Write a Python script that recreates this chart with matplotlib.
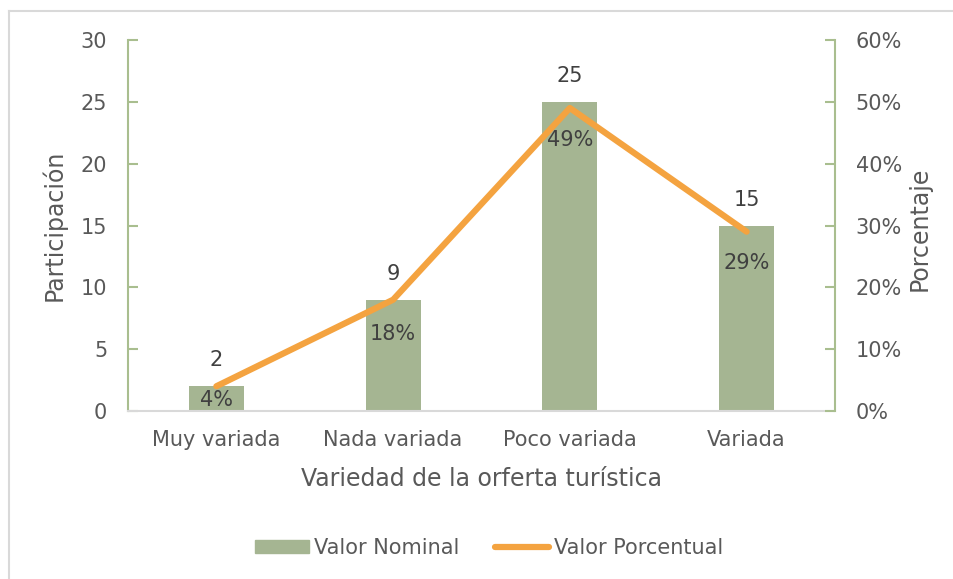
import matplotlib
matplotlib.use("Agg")
import matplotlib.pyplot as plt
from matplotlib.lines import Line2D
from matplotlib.patches import Patch
from matplotlib.ticker import FuncFormatter

categories = ["Muy variada", "Nada variada", "Poco variada", "Variada"]
nominal = [2, 9, 25, 15]
percent = [4, 18, 49, 29]
left_ticks = [0, 5, 10, 15, 20, 25, 30]
right_ticks = [0, 10, 20, 30, 40, 50, 60]

plt.rcParams['font.family'] = ['DejaVu Sans']
TXT = '#595959'
LBL = '#404040'
BAR = '#A5B592'
LINE = '#F4A340'
SPINE = '#A9BE8F'

fig = plt.figure(figsize=(9.54, 5.79), dpi=100)
bx, by = 9.5/954, 1 - 10.5/579
fig.add_artist(Line2D([bx, 1], [by, by], transform=fig.transFigure, color='#D9D9D9', linewidth=1.5))
fig.add_artist(Line2D([bx, bx], [0, by], transform=fig.transFigure, color='#D9D9D9', linewidth=1.5))

ax = fig.add_axes([128/954, 168/579, 707/954, 371/579])
x = list(range(len(categories)))
ax.bar(x, nominal, width=0.31, color=BAR, zorder=2)
ax.set_xlim(-0.5, 3.5)
ax.set_ylim(0, 30)
ax.set_yticks(left_ticks)
ax.set_xticks(x)
ax.set_xticklabels(categories)
for s in ['top', 'right']:
    ax.spines[s].set_visible(False)
ax.spines['left'].set_color(SPINE)
ax.spines['left'].set_linewidth(1.5)
ax.spines['bottom'].set_color('#D9D9D9')
ax.spines['bottom'].set_linewidth(1.5)
ax.tick_params(axis='y', direction='in', length=7, color=SPINE, width=1.5, labelsize=15, labelcolor=TXT, pad=15)
ax.tick_params(axis='x', length=0, labelsize=15, labelcolor=TXT, pad=14)
ax.set_ylabel("Participación", fontsize=17, color=TXT)
ax.yaxis.set_label_coords(-0.0863, 0.5)
ax.set_xlabel("Variedad de la orferta turística", fontsize=17, color=TXT, labelpad=12)

for xi, v in zip(x, nominal):
    ax.annotate(str(v), (xi, v), xytext=(0, 26), textcoords='offset pixels',
                ha='center', va='center', fontsize=15, color=LBL)

ax2 = ax.twinx()
ax2.set_ylim(0, 60)
ax2.set_yticks(right_ticks)
ax2.yaxis.set_major_formatter(FuncFormatter(lambda v, p: f"{int(v)}%"))
for s in ['top', 'left', 'bottom']:
    ax2.spines[s].set_visible(False)
ax2.spines['right'].set_color(SPINE)
ax2.spines['right'].set_linewidth(1.5)
ax2.tick_params(axis='y', direction='in', length=7, color=SPINE, width=1.5, labelsize=15, labelcolor=TXT, pad=15)
ax2.set_ylabel("Porcentaje", fontsize=17, color=TXT)
ax2.yaxis.set_label_coords(1.103, 0.49)
ax2.plot(x, percent, color=LINE, linewidth=4.5, solid_capstyle='round', solid_joinstyle='round', zorder=3)

offsets = [-14, -34, -32, -31]
for xi, p, off in zip(x, percent, offsets):
    ax2.annotate(f"{p}%", (xi, p), xytext=(0, off), textcoords='offset pixels',
                 ha='center', va='center', fontsize=15, color=LBL)

handles = [Patch(color=BAR, label="Valor Nominal"),
           Line2D([0], [0], color=LINE, linewidth=4.5, solid_capstyle='round', label="Valor Porcentual")]
fig.legend(handles=handles, loc='center', bbox_to_anchor=(489/954, 1 - 548/579), ncol=2,
           frameon=False, fontsize=15, labelcolor=TXT, handlelength=2.6, handletextpad=0.25,
           columnspacing=1.7, handleheight=0.6)

fig.savefig("out.png", dpi=100)
